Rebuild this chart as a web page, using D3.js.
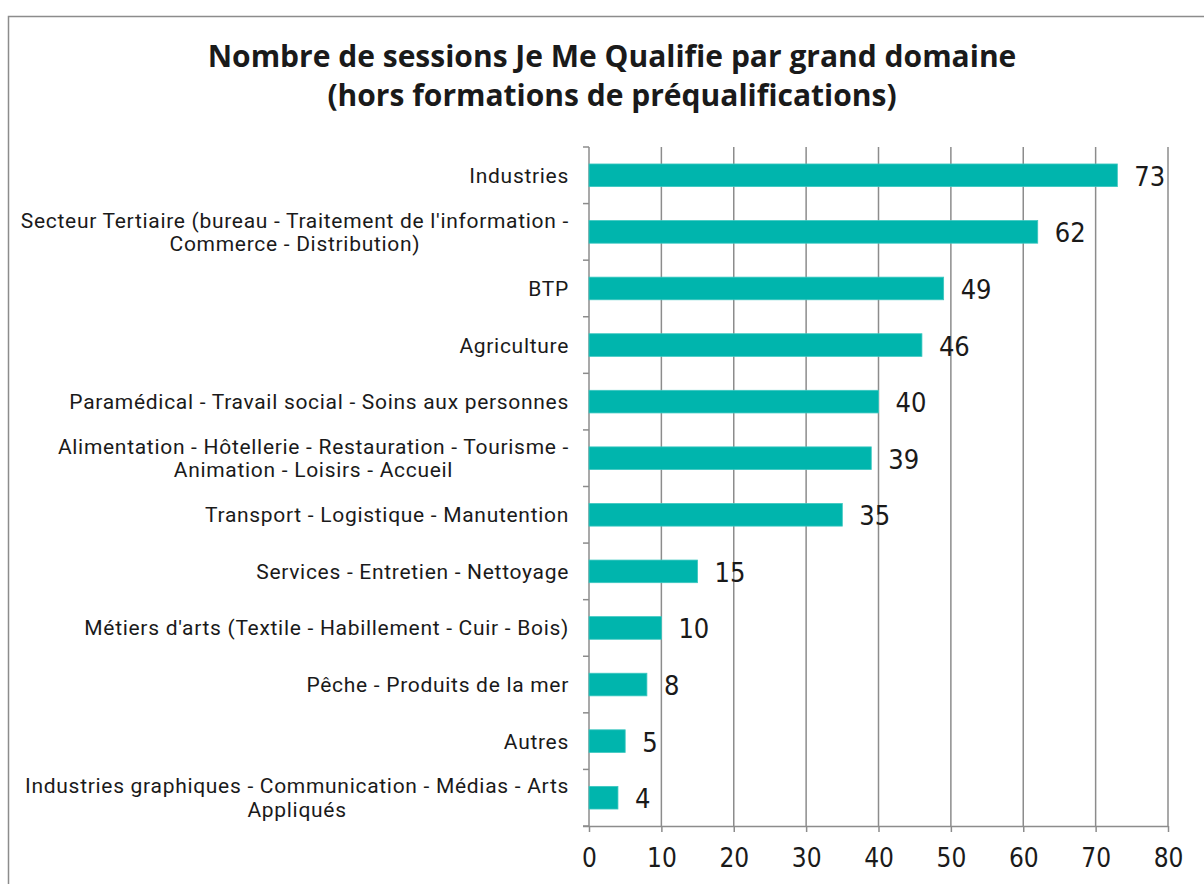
<!DOCTYPE html>
<html>
<head>
<meta charset="utf-8">
<script src="https://cdn.jsdelivr.net/npm/d3@7"></script>
<style>
  body { margin: 0; background: #fff; }
  text { font-family: Roboto, "Open Sans", sans-serif; fill: #1a1a1a; }
  .num { font-family: "Liberation Sans Narrow", "DejaVu Sans Condensed", Roboto, sans-serif; }
  .title { font-family: "Open Sans", sans-serif; font-weight: bold; }
</style>
</head>
<body>
<div id="chart"></div>
<script>
// chart data
const categories = [
    ["Industries"],
    ["Secteur Tertiaire (bureau - Traitement de l'information -", "Commerce - Distribution)"],
    ["BTP"],
    ["Agriculture"],
    ["Paramédical - Travail social - Soins aux personnes"],
    ["Alimentation -  Hôtellerie - Restauration - Tourisme -", "Animation - Loisirs - Accueil"],
    ["Transport - Logistique - Manutention"],
    ["Services - Entretien - Nettoyage"],
    ["Métiers d'arts (Textile - Habillement - Cuir - Bois)"],
    ["Pêche - Produits de la mer"],
    ["Autres"],
    ["Industries graphiques - Communication - Médias - Arts", "Appliqués"]
];
const values = [73, 62, 49, 46, 40, 39, 35, 15, 10, 8, 5, 4];
const xTicks = [0, 10, 20, 30, 40, 50, 60, 70, 80];
const titleLines = ["Nombre de sessions Je Me Qualifie par grand domaine", "(hors formations de préqualifications)"];

const width = 1204, height = 884;
const margin = {top: 147, right: 36, bottom: 58, left: 589};

const svg = d3.select("#chart").append("svg")
    .attr("width", width)
    .attr("height", height);

// outer frame
svg.append("rect")
    .attr("x", 8.5).attr("y", 16.5)
    .attr("width", 1400).attr("height", 1000)
    .attr("fill", "none")
    .attr("stroke", "#8c8c8c")
    .attr("stroke-width", 1.5);

// title
svg.append("text")
    .attr("class", "title")
    .attr("text-anchor", "middle")
    .attr("font-size", 30)
    .selectAll("tspan")
    .data(titleLines)
    .join("tspan")
    .attr("x", 612)
    .attr("y", (d, i) => 67 + i * 39)
    .text(d => d);

const x = d3.scaleLinear()
    .domain([0, 80])
    .range([margin.left, width - margin.right]);

const y = d3.scaleBand()
    .domain(d3.range(categories.length))
    .range([margin.top, height - margin.bottom])
    .paddingInner(0.6)
    .paddingOuter(0.3);

const plotBottom = height - margin.bottom;

// gridlines
svg.append("g")
    .selectAll("line")
    .data(xTicks.slice(1))
    .join("line")
    .attr("x1", d => x(d)).attr("x2", d => x(d))
    .attr("y1", margin.top).attr("y2", plotBottom)
    .attr("stroke", "#8c8c8c")
    .attr("stroke-width", 1.5);

// x axis
const xAxis = svg.append("g")
    .attr("transform", "translate(0," + plotBottom + ")")
    .call(d3.axisBottom(x).tickValues(xTicks).tickSize(6).tickPadding(17));
xAxis.select(".domain").attr("stroke", "#8c8c8c").attr("stroke-width", 1.5)
    .attr("d", "M" + (x(0) - 6) + ",0.5H" + x(80));
xAxis.selectAll(".tick line").attr("stroke", "#8c8c8c").attr("stroke-width", 1.5);
xAxis.selectAll(".tick text")
    .attr("class", "num")
    .attr("font-family", null)
    .attr("font-size", 26)
    .attr("fill", "#1a1a1a");

// y axis line and category boundary ticks
const step = y.step();
const bounds = d3.range(categories.length + 1).map(i => margin.top + i * step);
svg.append("line")
    .attr("x1", x(0)).attr("x2", x(0))
    .attr("y1", margin.top).attr("y2", plotBottom)
    .attr("stroke", "#8c8c8c").attr("stroke-width", 1.5);
svg.append("g")
    .selectAll("line")
    .data(bounds)
    .join("line")
    .attr("x1", x(0) - 6).attr("x2", x(0))
    .attr("y1", d => d).attr("y2", d => d)
    .attr("stroke", "#8c8c8c").attr("stroke-width", 1.5);

// bars
svg.append("g")
    .selectAll("rect")
    .data(values)
    .join("rect")
    .attr("x", x(0))
    .attr("y", (d, i) => y(i))
    .attr("width", d => x(d) - x(0))
    .attr("height", y.bandwidth())
    .attr("fill", "#00b5ad")
    .attr("stroke", "#3cc7c0")
    .attr("stroke-width", 0.8);

// value labels
svg.append("g")
    .selectAll("text")
    .data(values)
    .join("text")
    .attr("class", "num")
    .attr("x", d => x(d) + 17)
    .attr("y", (d, i) => y(i) + y.bandwidth() / 2 + 10.5)
    .attr("font-size", 27)
    .text(d => d);

// category labels, wrapped lines centred on each other, block right-aligned
const labelRight = 569;
const labels = svg.append("g").attr("font-size", 21).attr("letter-spacing", 0.7);
categories.forEach((lines, i) => {
    const cy = y(i) + y.bandwidth() / 2;
    const t = labels.append("text").attr("text-anchor", "middle");
    const lh = 23.5;
    lines.forEach((line, j) => {
        t.append("tspan")
            .attr("y", cy + 7.5 + (j - (lines.length - 1) / 2) * lh)
            .text(line);
    });
    const w = d3.max(t.selectAll("tspan").nodes(), n => n.getComputedTextLength());
    t.selectAll("tspan").attr("x", labelRight - w / 2);
});
</script>
</body>
</html>
